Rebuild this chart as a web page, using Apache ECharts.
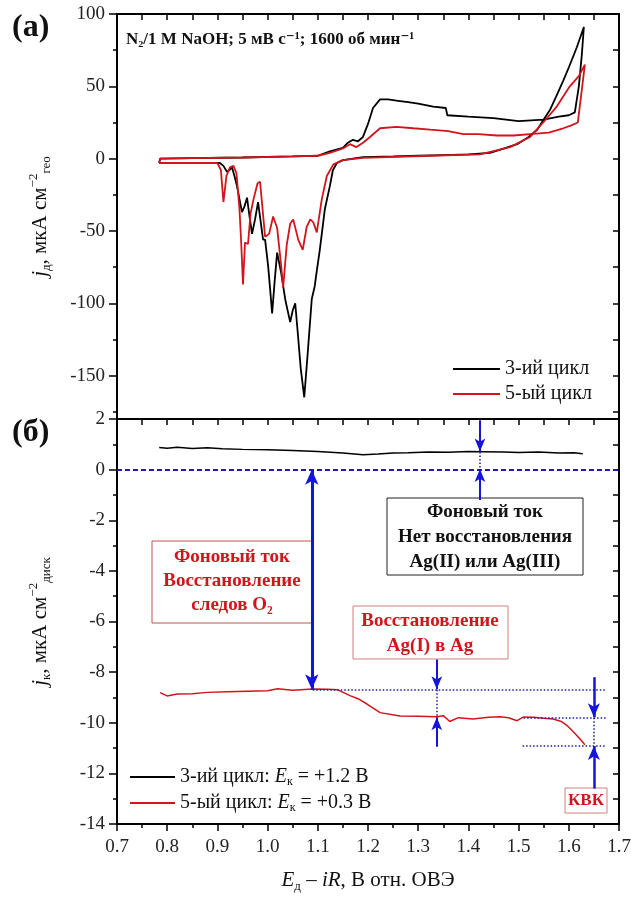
<!DOCTYPE html>
<html lang="ru" style="height: 100%">
<head>
  <meta charset="utf-8">
</head>
<body style="height: 100%; margin: 0; background: #fff">
  <div id="container" style="width: 631px; height: 906px"></div>
  <script type="text/javascript" src="https://fastly.jsdelivr.net/npm/echarts@6.0.0/dist/echarts.min.js"></script>
  <script type="text/javascript">
    // panel (a): CV of the Ag disk, 3rd and 5th cycle (forward sweep, then reverse)
    var cv3E = [0.784, 0.786, 0.85, 0.95, 1.05, 1.10, 1.124, 1.15, 1.16, 1.17, 1.18, 1.19, 1.20, 1.21, 1.224, 1.24, 1.26, 1.28, 1.30, 1.33, 1.355, 1.358, 1.40, 1.45, 1.50, 1.55, 1.58, 1.60, 1.612, 1.620, 1.626, 1.630,
      1.616, 1.600, 1.589, 1.575, 1.563, 1.550, 1.537, 1.520, 1.497, 1.470, 1.443, 1.40, 1.35, 1.30, 1.25, 1.19, 1.17, 1.15, 1.138, 1.13, 1.124, 1.114, 1.104, 1.097, 1.094, 1.088, 1.080, 1.073, 1.066, 1.060, 1.055, 1.050, 1.045, 1.038, 1.035, 1.027, 1.019, 1.014, 1.009, 1.005, 1.001, 0.995, 0.991, 0.981, 0.975, 0.969, 0.964, 0.959, 0.954, 0.949, 0.944, 0.939, 0.934, 0.929, 0.924, 0.919, 0.912, 0.905, 0.85, 0.784];
    var cv3J = [-3, 0, 0.3, 0.8, 1.5, 2, 5, 7.5, 11, 13, 12, 15, 24, 35, 41, 41, 40, 39, 38, 36, 35, 30, 29, 28, 26, 27, 29, 30, 32, 50, 72, 91,
      77, 63, 54, 43, 34, 27, 20, 15, 10, 7, 4, 3, 2.5, 2, 1.5, 1, 0, -1, -3, -8, -19, -35, -63, -80, -88, -97, -134, -165, -145, -120, -100, -105, -113, -102, -97, -79, -65, -85, -107, -90, -74, -56, -56, -30, -42, -52, -40, -27, -33, -37, -28, -19, -12, -6, -8, -9, -5, -3, -3, -3];
    var cv5E = [0.784, 0.786, 0.85, 0.95, 1.05, 1.10, 1.124, 1.15, 1.164, 1.177, 1.19, 1.204, 1.224, 1.257, 1.29, 1.324, 1.36, 1.39, 1.42, 1.457, 1.49, 1.523, 1.56, 1.589, 1.605, 1.618, 1.625, 1.632,
      1.620, 1.602, 1.576, 1.549, 1.523, 1.483, 1.423, 1.324, 1.19, 1.15, 1.131, 1.118, 1.108, 1.098, 1.091, 1.085, 1.078, 1.070, 1.061, 1.051, 1.045, 1.038, 1.031, 1.027, 1.019, 1.011, 1.003, 0.995, 0.990, 0.985, 0.980, 0.972, 0.966, 0.961, 0.955, 0.951, 0.947, 0.944, 0.938, 0.932, 0.925, 0.918, 0.912, 0.907, 0.90, 0.85, 0.784];
    var cv5J = [-3, 0, 0.3, 0.8, 1.5, 2, 4, 7, 10, 8, 11, 15, 21, 22, 21, 20, 19, 17, 17, 16, 16, 17, 18, 21, 23, 25, 45, 65,
      57, 50, 36, 25, 15, 8, 3, 2, 0.5, -1, -4, -12, -28, -51, -44, -42, -47, -63, -56, -42, -45, -60, -89, -74, -48, -40, -52, -54, -35, -16, -17, -28, -38, -59, -58, -87, -55, -35, -10, -5, -6, -12, -30, -8, -3, -3, -3];

    // panel (б): ring current
    var ring3E = [0.784, 0.80, 0.82, 0.85, 0.88, 0.91, 0.95, 1.0, 1.05, 1.10, 1.15, 1.19, 1.22, 1.25, 1.28, 1.32, 1.36, 1.40, 1.43, 1.47, 1.50, 1.54, 1.58, 1.61, 1.628];
    var ring3J = [0.87, 0.84, 0.88, 0.83, 0.86, 0.82, 0.80, 0.79, 0.76, 0.72, 0.66, 0.59, 0.62, 0.66, 0.67, 0.70, 0.69, 0.72, 0.71, 0.70, 0.68, 0.70, 0.66, 0.67, 0.63];
    var ring5E = [0.786, 0.80, 0.82, 0.85, 0.88, 0.92, 0.96, 1.0, 1.02, 1.05, 1.09, 1.12, 1.14, 1.164, 1.18, 1.198, 1.224, 1.264, 1.30, 1.337, 1.35, 1.363, 1.38, 1.409, 1.44, 1.463, 1.48, 1.497, 1.51, 1.529, 1.55, 1.569, 1.585, 1.596, 1.606, 1.616, 1.625, 1.632];
    var ring5J = [-8.81, -8.94, -8.86, -8.85, -8.80, -8.78, -8.76, -8.74, -8.66, -8.72, -8.67, -8.68, -8.70, -8.93, -9.05, -9.26, -9.6, -9.73, -9.74, -9.76, -9.72, -9.95, -9.80, -9.85, -9.78, -9.76, -9.80, -9.92, -9.77, -9.78, -9.82, -9.85, -9.95, -10.1, -10.3, -10.5, -10.7, -10.87];

    var legendTop = ['3-ий цикл', '5-ый цикл'];
    var legendBottom = ['3-ий цикл: Eк = +1.2 В', '5-ый цикл: Eк = +0.3 В'];
    var topLabels = [-150, -100, -50, 0, 50, 100];
    var topMinor = [-175, -125, -75, -25, 25, 75];
    var topRight = [-175, -150, -125, -100, -75, -50, -25, 0, 25, 50, 75, 100];

    var FONT = '"Liberation Serif", "DejaVu Serif", serif';
    var BLUE = '#1414dc';
    var NAVY = '#1c1c9c';
    var RED = '#d2141c';

    function zip(a, b) {
      return a.map(function (v, i) { return [v, b[i]]; });
    }

    var dom = document.getElementById('container');
    var myChart = echarts.init(dom, null, { renderer: 'canvas' });

    var subRich = {
      i: { fontFamily: FONT, fontStyle: 'italic', fontSize: 21, lineHeight: 26, color: '#111' },
      n: { fontFamily: FONT, fontSize: 21, lineHeight: 26, color: '#111' },
      s: { fontFamily: FONT, fontSize: 13, lineHeight: 13, verticalAlign: 'bottom', color: '#111' },
      p: { fontFamily: FONT, fontSize: 13, lineHeight: 13, verticalAlign: 'top', color: '#111' }
    };

    var xBase = {
      type: 'value', min: 0.7, max: 1.7, interval: 0.1,
      splitLine: { show: false },
      axisLine: { show: true, onZero: false, lineStyle: { color: '#000', width: 2 } },
      axisTick: { show: false },
      axisLabel: { show: false }
    };
    var yBase = {
      type: 'value',
      splitLine: { show: false },
      axisLine: { show: true, onZero: false, lineStyle: { color: '#000', width: 2 } },
      axisTick: { show: false },
      axisLabel: { show: false }
    };
    var tickIn = { show: true, inside: true, length: 6, lineStyle: { color: '#000', width: 1.5 } };
    var minorIn = { show: true, splitNumber: 2, length: 6, lineStyle: { color: '#000', width: 1.5 } };
    var labelStyle = { show: true, fontFamily: FONT, fontSize: 19, color: '#222', margin: 10 };

    var arrowMain = { color: BLUE, width: 3, type: 'solid' };
    var arrowThin = { color: BLUE, width: 2, type: 'solid' };
    var arrowMid = { color: BLUE, width: 2.5, type: 'solid' };
    var dotLine = { color: NAVY, width: 1.5, type: [1.5, 2] };

    function seg(x1, y1, x2, y2, s1, s2, style, size) {
      return [
        { coord: [x1, y1], symbol: s1, symbolSize: size || [10, 15] },
        { coord: [x2, y2], symbol: s2, symbolSize: size || [10, 15], lineStyle: style }
      ];
    }

    var option = {
      animation: false,
      grid: [
        { left: 117, top: 14, width: 502, height: 405, outerBoundsMode: 'none' },
        { left: 117, top: 419, width: 502, height: 405, outerBoundsMode: 'none' }
      ],
      xAxis: [
        Object.assign({}, xBase, { gridIndex: 0, position: 'top', axisTick: tickIn, minorTick: minorIn }),
        Object.assign({}, xBase, { gridIndex: 0, position: 'bottom' }),
        Object.assign({}, xBase, { gridIndex: 1, position: 'top', axisTick: tickIn, minorTick: minorIn }),
        Object.assign({}, xBase, {
          gridIndex: 1, position: 'bottom',
          axisTick: { show: true, inside: false, length: 7, lineStyle: { color: '#000', width: 1.5 } },
          minorTick: { show: true, splitNumber: 2, length: 4, lineStyle: { color: '#000', width: 1.5 } },
          axisLabel: Object.assign({}, labelStyle, { margin: 14, formatter: function (v) { return v.toFixed(1); } }),
          name: '{i|E}{s|д}{n| – }{i|iR}{n|, В отн. ОВЭ}',
          nameLocation: 'middle', nameGap: 43,
          nameTextStyle: { rich: subRich }
        })
      ],
      yAxis: [
        Object.assign({}, yBase, {
          gridIndex: 0, position: 'left', min: -180, max: 100,
          axisTick: { show: true, customValues: topLabels, length: 8, lineStyle: { color: '#000', width: 1.5 } },
          axisLabel: Object.assign({}, labelStyle, { customValues: topLabels, margin: 12 }),
          name: '{i|j}{s|д}{n|, мкА см}{p|−2}{s|гео}',
          nameLocation: 'middle', nameGap: 64, nameRotate: 90,
          nameTextStyle: { rich: subRich }
        }),
        Object.assign({}, yBase, {
          gridIndex: 0, position: 'left', min: -180, max: 100,
          axisTick: { show: true, customValues: topMinor, length: 4, lineStyle: { color: '#000', width: 1.5 } }
        }),
        Object.assign({}, yBase, {
          gridIndex: 0, position: 'right', min: -180, max: 100,
          axisTick: { show: true, inside: true, customValues: topRight, length: 6, lineStyle: { color: '#000', width: 1.5 } }
        }),
        Object.assign({}, yBase, {
          gridIndex: 1, position: 'left', min: -14, max: 2, interval: 2,
          axisTick: { show: true, length: 8, lineStyle: { color: '#000', width: 1.5 } },
          minorTick: { show: true, splitNumber: 2, length: 4, lineStyle: { color: '#000', width: 1.5 } },
          axisLabel: Object.assign({}, labelStyle, { margin: 12 }),
          name: '{i|j}{s|к}{n|, мкА см}{p|−2}{s|диск}',
          nameLocation: 'middle', nameGap: 64, nameRotate: 90,
          nameTextStyle: { rich: subRich }
        }),
        Object.assign({}, yBase, {
          gridIndex: 1, position: 'right', min: -14, max: 2, interval: 1,
          axisTick: { show: true, inside: true, length: 6, lineStyle: { color: '#000', width: 1.5 } }
        })
      ],
      legend: [
        {
          data: legendTop, orient: 'vertical', left: 448, top: 354,
          icon: 'rect', itemWidth: 47, itemHeight: 2, itemGap: 5,
          textStyle: { fontFamily: FONT, fontSize: 20, color: '#111' }
        },
        {
          data: legendBottom, orient: 'vertical', left: 125, top: 761,
          icon: 'rect', itemWidth: 45, itemHeight: 2, itemGap: 4,
          formatter: function (name) {
            var i = legendBottom.indexOf(name);
            return (i === 0 ? '3-ий цикл: ' : '5-ый цикл: ') + '{i|E}{s|к}' + (i === 0 ? ' = +1.2 В' : ' = +0.3 В');
          },
          textStyle: {
            fontFamily: FONT, fontSize: 20, color: '#111', lineHeight: 22,
            rich: {
              i: { fontFamily: FONT, fontStyle: 'italic', fontSize: 20, lineHeight: 22, color: '#111' },
              s: { fontFamily: FONT, fontSize: 12, lineHeight: 12, verticalAlign: 'bottom', color: '#111' }
            }
          }
        }
      ],
      series: [
        {
          name: legendTop[0], type: 'line', xAxisIndex: 1, yAxisIndex: 0,
          data: zip(cv3E, cv3J), showSymbol: false, color: '#000',
          lineStyle: { width: 1.8 }
        },
        {
          name: legendTop[1], type: 'line', xAxisIndex: 1, yAxisIndex: 0,
          data: zip(cv5E, cv5J), showSymbol: false, color: RED,
          lineStyle: { width: 1.8 }
        },
        {
          name: legendBottom[0], type: 'line', xAxisIndex: 3, yAxisIndex: 3,
          data: zip(ring3E, ring3J), showSymbol: false, color: '#000',
          lineStyle: { width: 1.5 }
        },
        {
          name: legendBottom[1], type: 'line', xAxisIndex: 3, yAxisIndex: 3,
          data: zip(ring5E, ring5J), showSymbol: false, color: RED,
          lineStyle: { width: 1.5 },
          markLine: {
            silent: true, animation: false,
            label: { show: false },
            emphasis: { disabled: true },
            data: [
              seg(0.7, 0, 1.7, 0, 'none', 'none', { color: NAVY, width: 2, type: [5, 3] }),
              seg(1.088, 0, 1.088, -8.68, 'arrow', 'arrow', arrowMain),
              seg(1.423, 1.95, 1.423, 0.72, 'none', 'arrow', arrowThin, [8, 13]),
              seg(1.423, 0.7, 1.423, 0, 'none', 'none', dotLine),
              seg(1.423, -1.2, 1.423, 0.02, 'none', 'arrow', arrowThin, [8, 13]),
              seg(1.09, -8.7, 1.675, -8.7, 'none', 'none', dotLine),
              seg(1.51, -9.8, 1.675, -9.8, 'none', 'none', dotLine),
              seg(1.508, -10.9, 1.675, -10.9, 'none', 'none', dotLine),
              seg(1.337, -7.5, 1.337, -8.68, 'none', 'arrow', arrowThin, [8, 13]),
              seg(1.337, -8.7, 1.337, -9.76, 'none', 'none', dotLine),
              seg(1.337, -10.95, 1.337, -9.78, 'none', 'arrow', arrowThin, [8, 13]),
              seg(1.65, -8.2, 1.65, -9.78, 'none', 'arrow', arrowMid, [9, 14]),
              seg(1.65, -9.8, 1.65, -10.9, 'none', 'none', dotLine),
              seg(1.65, -12.6, 1.65, -10.92, 'none', 'arrow', arrowMid, [9, 14])
            ]
          }
        }
      ],
      graphic: [
        { type: 'text', left: 12, top: 12, style: { text: '(a)', font: 'bold 32px ' + FONT, fill: '#111' } },
        { type: 'text', left: 12, top: 417, style: { text: '(б)', font: 'bold 32px ' + FONT, fill: '#111' } },
        { type: 'text', left: 126, top: 31, style: { text: 'N₂/1 M NaOH; 5 мВ с⁻¹; 1600 об мин⁻¹', font: 'bold 17px ' + FONT, fill: '#111' } },
        // black box
        { type: 'rect', shape: { x: 387, y: 498, width: 196, height: 77 }, style: { fill: '#fff', stroke: '#222', lineWidth: 1 } },
        { type: 'text', x: 485, y: 537, style: { text: 'Фоновый ток\nНет восстановления\nAg(II) или Ag(III)', font: 'bold 19px ' + FONT, lineHeight: 25, align: 'center', verticalAlign: 'middle', fill: '#111' } },
        // red box 1
        { type: 'rect', shape: { x: 152, y: 541, width: 160, height: 82 }, style: { fill: '#fff', stroke: '#c05050', lineWidth: 1 } },
        { type: 'text', x: 232, y: 581, style: { text: 'Фоновый ток\nВосстановление\nследов O₂', font: 'bold 19px ' + FONT, lineHeight: 24, align: 'center', verticalAlign: 'middle', fill: RED } },
        // red box 2
        { type: 'rect', shape: { x: 353, y: 606, width: 155, height: 53 }, style: { fill: '#fff', stroke: '#d08080', lineWidth: 1 } },
        { type: 'text', x: 430, y: 634, style: { text: 'Восстановление\nAg(I) в Ag', font: 'bold 19px ' + FONT, lineHeight: 25, align: 'center', verticalAlign: 'middle', fill: RED } },
        // KVK box
        { type: 'rect', shape: { x: 565, y: 788, width: 42, height: 25 }, style: { fill: '#fff', stroke: '#d08080', lineWidth: 1 } },
        { type: 'text', x: 586, y: 801, style: { text: 'КВК', font: 'bold 17px ' + FONT, align: 'center', verticalAlign: 'middle', fill: RED } }
      ]
    };

    myChart.setOption(option);
    window.addEventListener('resize', myChart.resize);
  </script>
</body>
</html>
